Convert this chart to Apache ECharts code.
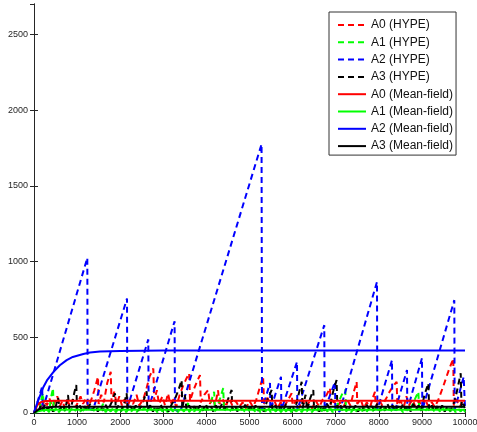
<!DOCTYPE html>
<html>
<head>
<meta charset="utf-8">
<script src="https://cdn.jsdelivr.net/npm/echarts@6/dist/echarts.min.js"></script>
<style>
  html,body{margin:0;padding:0;background:#fff;}
  #chart{width:477px;height:432px;}
</style>
</head>
<body>
<div id="chart"></div>
<script>
// legend names
var names = ['A0 (HYPE)', 'A1 (HYPE)', 'A2 (HYPE)', 'A3 (HYPE)',
  'A0 (Mean-field)', 'A1 (Mean-field)', 'A2 (Mean-field)', 'A3 (Mean-field)'];

// axis ticks
var xTicks = [0, 1000, 2000, 3000, 4000, 5000, 6000, 7000, 8000, 9000, 10000];
var yTicks = [0, 500, 1000, 1500, 2000, 2500];

// HYPE runs, [time, population]
var a0Hype = [[0,0],[60,40],[120,70],[180,30],[240,85],[300,50],[360,95],[420,40],[480,70],[540,110],[600,45],[660,80],[720,30],[780,75],[840,50],[900,90],[960,40],[1020,70],[1080,110],[1140,60],[1200,95],[1260,40],[1320,80],[1400,150],[1485,239],[1500,60],[1560,120],[1620,70],[1700,200],[1780,272],[1800,70],[1860,140],[1920,60],[1980,110],[2040,50],[2100,90],[2160,40],[2220,80],[2300,60],[2380,120],[2440,50],[2530,86],[2600,150],[2680,240],[2768,294],[2790,80],[2850,150],[2900,60],[2980,110],[3040,50],[3110,130],[3160,60],[3240,90],[3300,40],[3380,120],[3460,180],[3540,230],[3600,262],[3620,80],[3700,150],[3780,206],[3851,250],[3870,70],[3950,120],[4040,152],[4080,60],[4150,100],[4200,50],[4270,150],[4300,60],[4380,90],[4450,40],[4520,100],[4600,50],[4680,80],[4760,40],[4840,70],[4920,30],[5000,80],[5080,40],[5160,90],[5240,171],[5315,239],[5340,60],[5420,100],[5500,40],[5580,80],[5650,30],[5720,70],[5800,40],[5900,90],[5978,130],[6000,50],[6080,80],[6150,30],[6230,90],[6300,40],[6380,70],[6450,30],[6540,80],[6620,40],[6700,90],[6790,120],[6867,165],[6890,50],[6960,80],[7030,40],[7100,70],[7180,40],[7260,90],[7340,50],[7420,140],[7486,206],[7500,60],[7580,90],[7650,30],[7720,70],[7800,40],[7860,100],[7911,140],[7930,40],[8000,90],[8080,50],[8160,90],[8250,140],[8340,180],[8414,206],[8430,50],[8500,80],[8580,40],[8640,110],[8700,50],[8780,90],[8850,40],[8930,80],[9000,40],[9080,90],[9150,40],[9230,70],[9300,40],[9380,86],[9500,180],[9620,280],[9728,360],[9740,50],[9800,90],[9880,40],[9950,80],[10000,50]];

var a1Hype = [[0,0],[60,20],[120,5],[170,90],[209,131],[230,10],[290,30],[350,5],[400,110],[441,164],[460,10],[520,35],[580,5],[640,30],[700,10],[760,40],[820,5],[880,30],[940,10],[1000,35],[1060,5],[1120,25],[1180,5],[1240,40],[1300,10],[1360,30],[1420,5],[1480,35],[1540,10],[1600,60],[1660,5],[1720,30],[1780,10],[1840,35],[1900,5],[1960,30],[2020,10],[2080,40],[2140,5],[2200,30],[2260,10],[2320,35],[2380,5],[2440,30],[2500,10],[2560,40],[2620,5],[2680,60],[2740,10],[2800,30],[2860,5],[2920,35],[2980,10],[3040,30],[3100,5],[3160,40],[3220,10],[3280,30],[3340,5],[3400,35],[3480,10],[3576,66],[3600,5],[3660,30],[3720,10],[3780,35],[3840,5],[3900,30],[3960,10],[4020,40],[4100,70],[4180,140],[4200,10],[4300,80],[4390,164],[4410,10],[4470,35],[4530,5],[4590,30],[4650,10],[4710,35],[4770,5],[4830,30],[4890,10],[4950,40],[5010,5],[5070,30],[5130,10],[5190,35],[5250,5],[5310,30],[5370,10],[5430,40],[5490,5],[5550,30],[5610,10],[5670,35],[5730,5],[5790,30],[5850,10],[5910,40],[5970,5],[6030,30],[6090,10],[6150,35],[6210,5],[6270,30],[6330,10],[6390,40],[6450,5],[6510,30],[6570,10],[6630,60],[6690,5],[6750,30],[6810,10],[6870,35],[6930,5],[7000,30],[7080,80],[7170,138],[7223,152],[7240,10],[7300,30],[7360,5],[7420,35],[7480,10],[7540,30],[7600,5],[7660,40],[7720,10],[7780,30],[7840,5],[7900,35],[7960,10],[8020,30],[8080,5],[8140,40],[8200,10],[8260,30],[8320,5],[8380,35],[8440,10],[8500,30],[8560,5],[8620,40],[8680,10],[8740,30],[8820,80],[8917,140],[8940,10],[9000,35],[9060,5],[9120,30],[9180,10],[9240,35],[9300,5],[9360,30],[9420,10],[9480,40],[9540,5],[9600,30],[9660,10],[9720,35],[9780,5],[9840,30],[9900,10],[9960,35],[10000,5]];

var a2Hype = [[0,5],[100,90],[190,175],[200,20],[1237,1024],[1245,30],[1370,20],[2158,756],[2165,30],[2652,486],[2660,30],[3262,606],[3270,20],[3400,15],[5280,1775],[5290,20],[5476,198],[5484,20],[5731,239],[5740,20],[6102,338],[6110,20],[6155,10],[6735,580],[6743,20],[6984,206],[6992,20],[7092,10],[7958,866],[7966,20],[8306,349],[8314,20],[8371,10],[8654,283],[8662,20],[9002,363],[9010,20],[9752,745],[9760,20],[9970,239],[10000,30]];

var a3Hype = [[0,0],[50,30],[100,10],[150,45],[200,15],[260,60],[320,20],[380,50],[440,10],[500,40],[560,100],[600,20],[660,55],[720,15],[789,119],[820,25],[880,60],[940,140],[981,184],[1000,20],[1060,50],[1120,10],[1180,45],[1240,15],[1300,60],[1360,20],[1420,50],[1480,10],[1540,40],[1600,15],[1660,55],[1720,20],[1800,70],[1880,130],[1900,20],[1960,50],[2020,15],[2090,60],[2150,130],[2170,20],[2240,45],[2300,10],[2360,50],[2420,15],[2480,40],[2540,80],[2614,143],[2630,20],[2700,50],[2760,10],[2820,45],[2880,15],[2940,55],[3000,20],[3060,40],[3120,10],[3200,60],[3280,100],[3350,150],[3426,217],[3440,30],[3500,120],[3540,20],[3600,50],[3660,15],[3720,45],[3780,10],[3850,50],[3920,15],[3980,60],[4040,20],[4100,45],[4160,10],[4220,50],[4290,15],[4360,60],[4420,20],[4500,90],[4585,152],[4600,20],[4660,50],[4720,10],[4780,45],[4840,15],[4900,55],[4960,20],[5020,40],[5080,10],[5140,50],[5200,15],[5270,45],[5330,10],[5420,90],[5514,152],[5530,20],[5600,50],[5660,10],[5720,45],[5780,15],[5850,60],[5920,20],[5980,50],[6050,15],[6120,100],[6210,206],[6230,30],[6300,120],[6340,20],[6400,90],[6480,152],[6500,20],[6560,50],[6620,10],[6680,45],[6740,15],[6800,60],[6860,30],[6940,140],[7020,217],[7040,30],[7100,60],[7160,15],[7220,50],[7280,10],[7340,45],[7400,15],[7460,50],[7520,10],[7600,45],[7660,15],[7720,55],[7780,20],[7840,45],[7900,10],[7960,60],[8020,20],[8080,50],[8140,15],[8200,60],[8260,20],[8320,50],[8380,10],[8440,45],[8500,15],[8560,60],[8620,20],[8680,50],[8740,10],[8800,60],[8860,20],[8920,50],[8980,15],[9060,120],[9149,196],[9170,20],[9230,50],[9290,10],[9350,45],[9410,15],[9470,50],[9530,10],[9600,45],[9660,15],[9720,50],[9780,100],[9840,180],[9900,262],[9920,30],[9970,60],[10000,20]];

// mean-field solutions
var a0Mf = [[0,0],[40,30],[80,52],[120,65],[160,72],[220,77],[300,80],[500,81],[10000,81]];
var a1Mf = [[0,0],[100,12],[200,18],[400,21],[700,22],[10000,22]];
var a2Mf = [[0,0],[50,45],[100,85],[150,122],[216,170],[300,215],[448,270],[600,315],[758,349],[900,370],[1144,389],[1300,399],[1531,406],[2000,410],[3000,412],[10000,412]];
var a3Mf = [[0,0],[100,22],[200,33],[300,38],[500,41],[800,42],[10000,42]];

var colors = ['#ff0000', '#00ff00', '#0000ff', '#000000'];
var hype = [a0Hype, a1Hype, a2Hype, a3Hype];
var mf = [a0Mf, a1Mf, a2Mf, a3Mf];

var series = [];
for (var i = 0; i < 4; i++) {
  series.push({
    name: names[i], type: 'line', data: hype[i], symbol: 'none',
    animation: false,
    lineStyle: {color: colors[i], width: 2, type: [6, 4]}
  });
}
for (var j = 0; j < 4; j++) {
  series.push({
    name: names[4 + j], type: 'line', data: mf[j], symbol: 'none',
    animation: false,
    lineStyle: {color: colors[j], width: 2, type: 'solid'}
  });
}

var axisCol = '#262626';
var tickFont = {color: '#262626', fontSize: 9, fontFamily: 'Liberation Sans'};

var myChart = echarts.init(document.getElementById('chart'));
myChart.setOption({
  animation: false,
  color: colors,
  grid: {left: 34, right: 12, top: 4, bottom: 19, outerBoundsMode: 'none'},
  legend: {
    orient: 'vertical',
    left: 329, top: 12,
    padding: [7, 3, 3, 8],
    itemWidth: 28, itemHeight: 12, itemGap: 5.3,
    itemStyle: {opacity: 0},
    lineStyle: {width: 2, opacity: 1},
    backgroundColor: '#fff',
    borderColor: '#333', borderWidth: 1,
    textStyle: {color: '#111', fontSize: 12, fontFamily: 'Liberation Sans'},
    data: names
  },
  xAxis: [{
    type: 'value', min: 0, max: 10000, interval: 1000,
    axisLine: {show: true, lineStyle: {color: axisCol, width: 1}},
    axisTick: {show: true, inside: true, length: 4, lineStyle: {color: axisCol}},
    axisLabel: Object.assign({margin: 5, formatter: function (v) { return xTicks.indexOf(v) >= 0 ? v : ''; }}, tickFont),
    splitLine: {show: false}
  }, {
    type: 'value', position: 'top', min: 0, max: 10000, interval: 1000,
    axisLine: {show: true, lineStyle: {color: axisCol, width: 1}},
    axisTick: {show: true, inside: true, length: 4, lineStyle: {color: axisCol}},
    axisLabel: {show: false},
    splitLine: {show: false}
  }],
  yAxis: [{
    type: 'value', min: 0, max: 2700, interval: 500,
    axisLine: {show: true, lineStyle: {color: axisCol, width: 1}},
    axisTick: {show: true, inside: true, length: 4, lineStyle: {color: axisCol}},
    axisLabel: Object.assign({margin: 6, showMaxLabel: false, formatter: function (v) { return yTicks.indexOf(v) >= 0 ? v : ''; }}, tickFont),
    splitLine: {show: false}
  }, {
    type: 'value', position: 'right', min: 0, max: 2700, interval: 500,
    axisLine: {show: true, lineStyle: {color: axisCol, width: 1}},
    axisTick: {show: true, inside: true, length: 4, lineStyle: {color: axisCol}},
    axisLabel: {show: false},
    splitLine: {show: false}
  }],
  series: series
});
</script>
</body>
</html>
